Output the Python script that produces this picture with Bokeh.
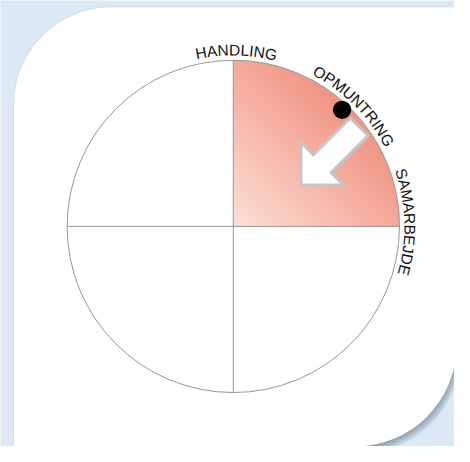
import numpy as np
from bokeh.plotting import figure
from bokeh.models import Range1d, BoxAnnotation
from bokeh.core.properties import value
from bokeh.embed import file_html
from bokeh.resources import INLINE

# ---------------- data ----------------
labels = ["HANDLING", "OPMUNTRING", "SAMARBEJDE"]
label_angles = [89.0, 45.0, 1.5]          # degrees, centre of each rim label
highlight_start = 0.0                      # highlighted sector (degrees)
highlight_end = 90.0
marker_angle = 47.0                        # position of the black marker
marker_radius = 0.96

# ---------------- layout ----------------
REF_W, REF_H = 470.0, 462.0
W, H = 454, 446
K = W / REF_W                 # screen px per reference px
SCALE = 172.0                 # reference pixels per unit radius
CX, CY = 241.0, 234.0         # reference position of the circle centre
BG = "#dce9f5"

def X(px):
    return (px - CX) / SCALE

def Y(py):
    return (CY - py) / SCALE

p = figure(width=W, height=H, output_backend="svg", toolbar_location=None,
           x_range=Range1d(X(0), X(REF_W)), y_range=Range1d(Y(REF_H), Y(0)),
           x_axis_location=None, y_axis_location=None, min_border=0,
           background_fill_color=BG, border_fill_color=BG, outline_line_color=None)
p.grid.visible = False

# ---------------- card with shadow ----------------
radius = dict(top_left=int(round(100 * K)), top_right=0,
              bottom_right=int(round(105 * K)), bottom_left=0)
cl, cr, ct, cb = 14, 470, 7, 462
p.add_layout(BoxAnnotation(left=X(cl - 1), right=X(cr + 1), top=Y(ct - 1), bottom=Y(cb + 1),
                           fill_color="#7f93a6", fill_alpha=0.12, line_color=None,
                           border_radius=radius, level="underlay"))
for k in range(1, 8):
    p.add_layout(BoxAnnotation(left=X(cl + k), right=X(cr + k), top=Y(ct + k), bottom=Y(cb + k),
                               fill_color="#566a7c", fill_alpha=0.11, line_color=None,
                               border_radius=radius, level="underlay"))
p.add_layout(BoxAnnotation(left=X(cl), right=X(cr + 2), top=Y(ct), bottom=Y(cb),
                           fill_color="white", fill_alpha=1.0, line_color=None,
                           border_radius=radius, level="underlay"))

# ---------------- gradient sector ----------------
a0, a1 = np.radians(highlight_start), np.radians(highlight_end)
sa = np.linspace(a0, a1, 181)
bx = np.concatenate([[0.0], np.cos(sa)])
by = np.concatenate([[0.0], np.sin(sa)])
x0, x1, y0, y1 = bx.min(), bx.max(), by.min(), by.max()
RES = 340.0
nx, ny = int(round((x1 - x0) * RES)), int(round((y1 - y0) * RES))
gx = x0 + (np.arange(nx) + 0.5) / RES
gy = y0 + (np.arange(ny) + 0.5) / RES
XX, YY = np.meshgrid(gx, gy)
rr = np.hypot(XX, YY)
th = np.mod(np.arctan2(YY, XX), 2 * np.pi)
inside = (th >= a0 - 1e-9) & (th <= a1 + 1e-9)
alpha = np.clip((1 - rr) * RES + 0.5, 0, 1) * inside
mid = (a0 + a1) / 2
t = np.clip((XX * np.cos(mid) + YY * np.sin(mid)), 0, 1)
c0 = np.array([253, 224, 216], float)
c1 = np.array([241, 148, 130], float)
img = np.empty((ny, nx), dtype=np.uint32)
view = img.view(dtype=np.uint8).reshape((ny, nx, 4))
for i in range(3):
    view[:, :, i] = (c0[i] + (c1[i] - c0[i]) * t).astype(np.uint8)
view[:, :, 3] = (alpha * 255).astype(np.uint8)
p.image_rgba(image=[img], x=x0, y=y0, dw=x1 - x0, dh=y1 - y0)

# ---------------- circle and quadrant lines ----------------
p.circle(x=[0], y=[0], radius=1, fill_color=None, line_color="#979797", line_width=1)
p.segment(x0=[-1, 0], y0=[0, -1], x1=[1, 0], y1=[0, 1], line_color="#979797", line_width=1)

# ---------------- arrow and marker ----------------
ma = np.radians(marker_angle)
dot = np.array([marker_radius * np.cos(ma), marker_radius * np.sin(ma)])
u = -np.array([np.cos(mid), np.sin(mid)])       # pointing towards centre
n = np.array([np.sin(mid), -np.cos(mid)])        # perpendicular
M = dot + 0.145 * n
L, HL, sw, hw = 85 / SCALE, 31 / SCALE, 13 / SCALE, 31 / SCALE
pts = [M + sw * n, M + sw * n + (L - HL) * u, M + hw * n + (L - HL) * u, M + L * u,
       M - hw * n + (L - HL) * u, M - sw * n + (L - HL) * u, M - sw * n]
p.patch(x=[q[0] for q in pts], y=[q[1] for q in pts], fill_color="white",
        line_color="#c6c6c6", line_width=3 * K, line_join="miter")
p.circle(x=[dot[0]], y=[dot[1]], radius=9.5 / SCALE, fill_color="black", line_color=None)

# ---------------- rim labels (curved) ----------------
CW = {"A": .667, "B": .667, "D": .722, "E": .667, "G": .778, "H": .722, "I": .278,
      "J": .5, "L": .556, "M": .833, "N": .722, "O": .778, "P": .667, "R": .722,
      "S": .667, "T": .611, "U": .722}
FS = 16.0                     # reference px
RB = 177.0                    # baseline radius (reference px)
RM = RB + 0.36 * FS           # radius of the cap-height middle
tx, ty, tt, tang = [], [], [], []
for lab, ang in zip(labels, label_angles):
    ws = [CW.get(c, .6) * FS for c in lab]
    total = sum(ws)
    pos = 0.0
    for c, w in zip(lab, ws):
        m = pos + w / 2
        theta = np.radians(ang) + (total / 2 - m) / RB
        tx.append(RM / SCALE * np.cos(theta))
        ty.append(RM / SCALE * np.sin(theta))
        tt.append(c)
        tang.append(theta - np.pi / 2)
        pos += w
p.text(x=tx, y=ty, text=tt, angle=tang, text_align="center", text_baseline="middle",
       text_font=value("Liberation Sans"), text_font_size=f"{FS * K:.1f}px",
       text_color="#111111")

open("out.html", "w").write(file_html(p, INLINE))
